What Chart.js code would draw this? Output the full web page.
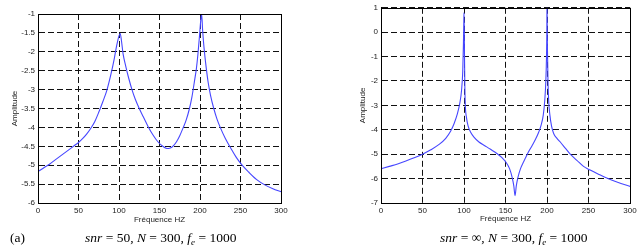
<!DOCTYPE html>
<html>
<head>
<meta charset="utf-8">
<script src="https://cdn.jsdelivr.net/npm/chart.js@4/dist/chart.umd.min.js"></script>
<style>
  html, body { margin:0; padding:0; background:#fff; }
  body { width:640px; height:252px; position:relative; overflow:hidden; }
  .cv { position:absolute; top:0; width:320px; height:252px; }
  .cap { position:absolute; font-family:"Liberation Serif","DejaVu Serif",serif; font-size:13.5px; color:#000; white-space:nowrap; line-height:14px; }
  .cap i { font-style:italic; }
  .cap .sub { font-size:9px; font-style:italic; position:relative; top:3px; }
</style>
</head>
<body>
<div class="cv" style="left:0"><canvas id="c1" width="320" height="252"></canvas></div>
<div class="cv" style="left:320px"><canvas id="c2" width="320" height="252"></canvas></div>
<div class="cap" style="left:10px;top:231px">(a)</div>
<div class="cap" style="left:85px;top:231px"><i>snr</i> = 50, <i>N</i> = 300, <i>f</i><span class="sub">e</span> = 1000</div>
<div class="cap" style="left:440px;top:231px"><i>snr</i> = ∞, <i>N</i> = 300, <i>f</i><span class="sub">e</span> = 1000</div>
<script>
// ---- Data ----
const freqA = [0,5,10,15,20,25,30,35,40,45,50,55,60,65,70,75,80,85,90,94,97,100,101.5,103,105,108,112,116,120,125,130,136,142,148,154,158,161,164,167,171,175,179,183,187,190,193,195.5,197.5,199.5,201,202,203.3,205,207,210,213,217,221,225,231,238,245,252,260,270,280,290,300];
const ampA  = [-5.17,-5.1,-5.03,-4.96,-4.88,-4.8,-4.72,-4.64,-4.56,-4.48,-4.4,-4.3,-4.18,-4.03,-3.85,-3.6,-3.32,-3.02,-2.6,-2.2,-1.85,-1.58,-1.52,-1.7,-2.05,-2.35,-2.7,-3.0,-3.25,-3.5,-3.72,-3.98,-4.2,-4.38,-4.5,-4.55,-4.56,-4.54,-4.49,-4.38,-4.22,-4.02,-3.8,-3.5,-3.2,-2.8,-2.45,-2.05,-1.55,-1.15,-1.0,-1.45,-1.9,-2.3,-2.8,-3.15,-3.5,-3.78,-4.0,-4.28,-4.55,-4.8,-5.0,-5.18,-5.38,-5.52,-5.62,-5.7];

const freqB = [0,10,20,30,40,50,60,70,78,84,88,92,95,97,98.5,99.3,99.8,100,100.3,100.6,101,101.6,103,105,108,112,118,125,132,140,146,151,155,158,160,161.5,163,165,168,172,177,182,186,190,193,195.5,197.3,198.6,199.4,199.8,200,200.3,200.7,201.2,202,203.5,205.5,208,212,216,222,228,236,244,252,262,272,285,300];
const ampB  = [-5.6,-5.5,-5.4,-5.28,-5.15,-5.0,-4.82,-4.6,-4.35,-4.05,-3.75,-3.35,-2.9,-2.4,-1.6,-0.5,0.5,0.8,0.2,-1.0,-2.2,-3.0,-3.5,-3.85,-4.1,-4.3,-4.5,-4.65,-4.8,-4.98,-5.15,-5.35,-5.6,-5.95,-6.3,-6.7,-6.3,-5.95,-5.6,-5.3,-4.95,-4.65,-4.4,-4.1,-3.8,-3.4,-2.8,-2.0,-1.0,0.0,1.3,0.0,-1.0,-2.0,-2.8,-3.4,-3.85,-4.15,-4.35,-4.5,-4.75,-5.0,-5.25,-5.5,-5.65,-5.82,-5.98,-6.15,-6.32];

const xTicks = [0,50,100,150,200,250,300];
const yTicksA = [-6,-5.5,-5,-4.5,-4,-3.5,-3,-2.5,-2,-1.5,-1];
const yTicksB = [-7,-6,-5,-4,-3,-2,-1,0,1];

const xTitle = 'Fréquence HZ';
const yTitle = 'Amplitude';

// ---- Chart builder ----
const boxPlugin = {
  id: 'box',
  afterDraw(chart) {
    const {ctx, chartArea: a} = chart;
    ctx.save();
    ctx.strokeStyle = '#000';
    ctx.lineWidth = 1;
    ctx.strokeRect(Math.round(a.left)+0.5, Math.round(a.top)+0.5, Math.round(a.right-a.left), Math.round(a.bottom-a.top));
    ctx.restore();
  }
};

function makeChart(id, xs, ys, yTicks, geom) {
  const pts = xs.map((x, i) => ({x: x, y: ys[i]}));
  const tickFont = {family: '"Liberation Sans", Arial, sans-serif', size: 8};
  const gridCommon = {color: '#111', lineWidth: 1, drawTicks: false};
  return new Chart(document.getElementById(id), {
    type: 'line',
    data: { datasets: [{
      data: pts, borderColor: '#4646ff', borderWidth: 1.1,
      pointRadius: 0, cubicInterpolationMode: 'monotone', fill: false
    }]},
    plugins: [boxPlugin],
    options: {
      responsive: false, animation: false,
      layout: { padding: {top: geom.top, right: geom.right, bottom: 0, left: 0} },
      plugins: { legend: {display: false}, tooltip: {enabled: false} },
      scales: {
        x: {
          type: 'linear', min: 0, max: 300,
          afterBuildTicks: s => { s.ticks = xTicks.map(v => ({value: v})); },
          afterFit: s => { s.height = geom.xh; },
          grid: gridCommon,
          border: {display: true, color: '#000', width: 1, dash: [6, 3]},
          ticks: { font: tickFont, color: '#222', padding: 3, maxRotation: 0, autoSkip: false, callback: v => String(v) },
          title: { display: true, text: xTitle, font: tickFont, color: '#222', padding: {top: 0, bottom: geom.xtp} }
        },
        y: {
          type: 'linear', min: yTicks[0], max: yTicks[yTicks.length-1],
          afterBuildTicks: s => { s.ticks = yTicks.map(v => ({value: v})); },
          afterFit: s => { s.width = geom.yw; },
          grid: gridCommon,
          border: {display: true, color: '#000', width: 1, dash: [6, 3]},
          ticks: { font: tickFont, color: '#222', padding: 3, autoSkip: false, callback: v => String(v) },
          title: { display: true, text: yTitle, font: tickFont, color: '#222', padding: {top: geom.ytp, bottom: 0} }
        }
      }
    }
  });
}

makeChart('c1', freqA, ampA, yTicksA, {top: 14, right: 39, xh: 49, yw: 38, xtp: 27, ytp: 10});
makeChart('c2', freqB, ampB, yTicksB, {top: 6, right: 10, xh: 49, yw: 61, xtp: 28, ytp: 38});
</script>
</body>
</html>
